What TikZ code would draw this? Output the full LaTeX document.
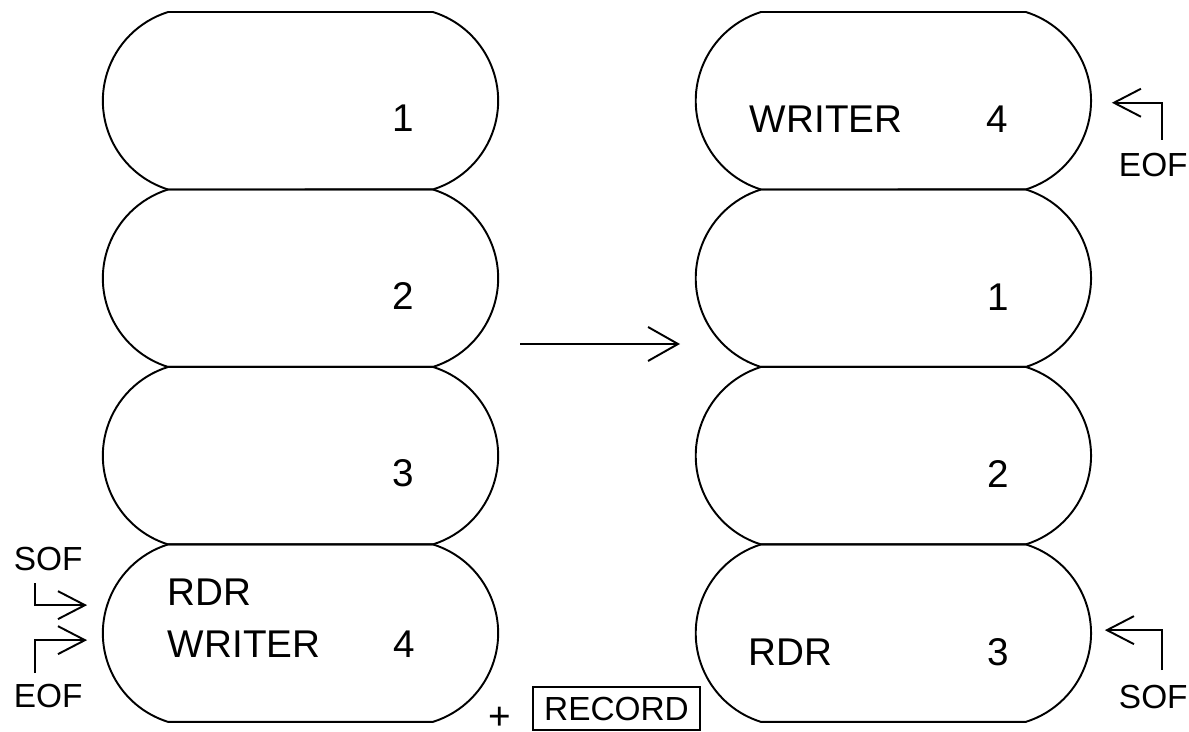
\documentclass[tikz,border=0pt]{standalone}
\usepackage{fontspec}
\setmainfont{Liberation Sans}
\usetikzlibrary{positioning,arrows.meta}

\tikzset{
  slot/.style={rectangle, minimum width=7.94cm, minimum height=3.55cm,
    inner sep=0pt, outer sep=0pt},
  big/.style={font=\fontsize{22}{24}\selectfont, inner sep=0pt, anchor=base west},
  num/.style={big, anchor=base},
  tag/.style={font=\fontsize{19}{21}\selectfont, inner sep=0pt, anchor=base west},
  flag/.style={-{Straight Barb[length=0.54cm, width=0.56cm]}},
  move/.style={-{Straight Barb[length=0.6cm, width=0.68cm]}},
  rec/.style={draw, line width=1pt, font=\fontsize{19}{21}\selectfont,
    minimum width=3.34cm, minimum height=0.86cm, inner sep=0pt, text depth=0pt},
}

\begin{document}
\begin{tikzpicture}[x=0.02cm, y=-0.02cm, node distance=0pt, line width=1.1pt]
    \useasboundingbox (0,0) rectangle (1189,732);
    % file before the write
    \node[slot] (l1) at (300.5,100.75) {};
    \node[slot, below=of l1] (l2) {};
    \node[slot, below=of l2] (l3) {};
    \node[slot, below=of l3] (l4) {};
    % file after the write
    \node[slot, right=3.92cm of l1] (r1) {};
    \node[slot, below=of r1] (r2) {};
    \node[slot, below=of r2] (r3) {};
    \node[slot, below=of r3] (r4) {};
    % outline of every record slot
    \foreach \s in {l1,l2,l3,l4,r1,r2,r3,r4}
        \draw ([xshift=-1.32cm]\s.north east)
            arc[start angle=72.6, end angle=-72.6, radius=1.86cm]
            -- ([xshift=1.32cm]\s.south west)
            arc[start angle=252.6, end angle=107.4, radius=1.86cm] -- cycle;
    \node[num] (l1n) at ([shift={(103,31)}]l1.center) {1};
    \node[num] (l2n) at ([shift={(103,31)}]l2.center) {2};
    \node[num] (l3n) at ([shift={(103,31)}]l3.center) {3};
    \node[num] (l4n) at ([shift={(104,24)}]l4.center) {4};
    \node[big] (l4r) at ([shift={(-133.5,-28)}]l4.center) {RDR};
    \node[big] (l4w) at ([shift={(-133.5,24)}]l4.center) {WRITER};
    \node[num] (r1n) at ([shift={(103.5,32)}]r1.center) {4};
    \node[num] (r2n) at ([shift={(104.5,32)}]r2.center) {1};
    \node[num] (r3n) at ([shift={(104.5,32)}]r3.center) {2};
    \node[num] (r4n) at ([shift={(104.5,32)}]r4.center) {3};
    \node[big] (r1w) at ([shift={(-144.5,32)}]r1.center) {WRITER};
    \node[big] (r4r) at ([shift={(-145.5,32)}]r4.center) {RDR};
    % start / end of file markers
    \node[tag] (sofl) at (13,570) {SOF};
    \node[tag, anchor=north west] (eofl) at (13,683) {EOF};
    \node[tag, anchor=north west] (eofr) at (1118,152) {EOF};
    \node[tag, anchor=north west] (sofr) at (1118,684) {SOF};
    \coordinate (l4-sof) at ([shift={(-15,-28)}]l4.west);
    \coordinate (l4-eof) at ([shift={(-15,7)}]l4.west);
    \coordinate (r1-eof) at ([shift={(20,2)}]r1.east);
    \coordinate (r4-sof) at ([shift={(13,-3)}]r4.east);
    \draw[flag] ([shift={(22,12)}]sofl.south west) |- (l4-sof);
    \draw[flag] ([shift={(22,-10)}]eofl.north west) |- (l4-eof);
    \draw[flag] ([shift={(44,-12)}]eofr.north west) |- (r1-eof);
    \draw[flag] ([shift={(44,-14)}]sofr.north west) |- (r4-sof);
    % the write
    \coordinate (go-a) at (520,344);
    \coordinate (go-b) at (680,344);
    \draw[move] (go-a) -- (go-b);
    \node[big, anchor=center] (plus) at (500,718) {+};
    \node[rec] (record) at (616.5,708.5) {RECORD};
\end{tikzpicture}
\end{document}
